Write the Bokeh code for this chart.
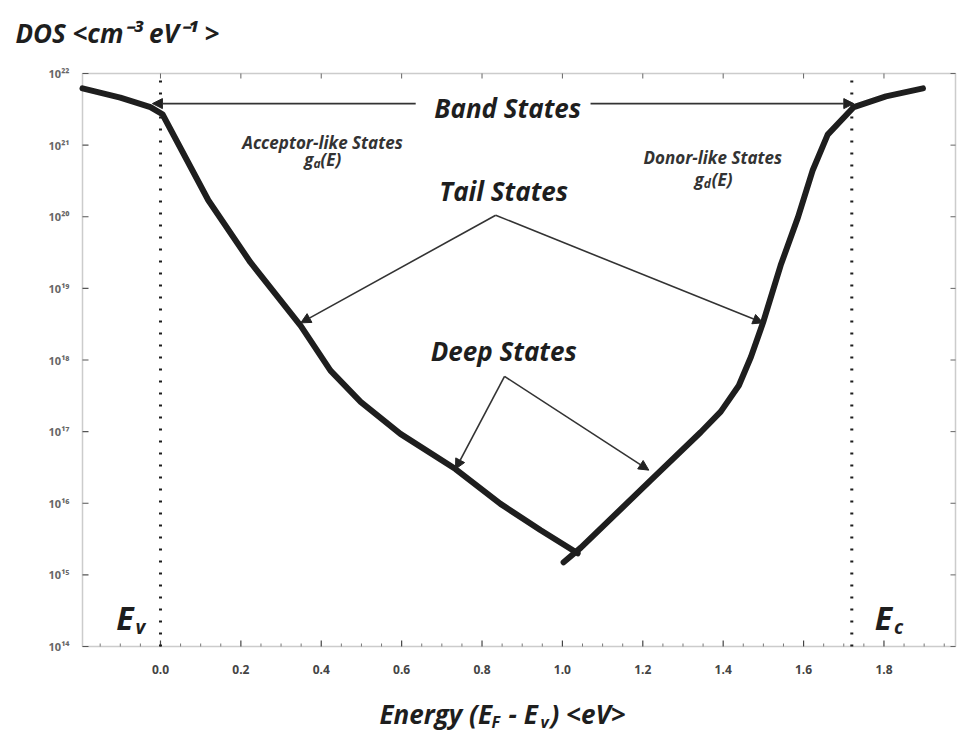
import math
from bokeh.plotting import figure
from bokeh.models import Arrow, NormalHead, Label, Range1d, BoxAnnotation
from bokeh.core.properties import value
from bokeh.embed import file_html
from bokeh.resources import INLINE

# ---------------- data ----------------
acceptor_E = [-0.194, -0.10, -0.025, 0.005, 0.119, 0.224, 0.349, 0.423, 0.498, 0.597, 0.734, 0.846, 0.946, 1.038]
acceptor_DOS = [6.2e21, 4.6e21, 3.4e21, 2.7e21, 1.7e20, 2.3e19, 3.0e18, 7.1e17, 2.6e17, 9.3e16, 3.0e16, 9.8e15, 4.2e15, 2.0e15]
donor_E = [1.003, 1.046, 1.22, 1.344, 1.394, 1.439, 1.469, 1.499, 1.543, 1.586, 1.623, 1.660, 1.725, 1.805, 1.897]
donor_DOS = [1.5e15, 2.4e15, 2.1e16, 9.8e16, 1.9e17, 4.4e17, 1.1e18, 3.3e18, 2.1e19, 9.8e19, 4.5e20, 1.4e21, 3.4e21, 4.8e21, 6.2e21]
E_v = 0.0
E_c = 1.72
x_ticks = [0.0, 0.2, 0.4, 0.6, 0.8, 1.0, 1.2, 1.4, 1.6, 1.8]
x_tick_labels = ["0.0", "0.2", "0.4", "0.6", "0.8", "1.0", "1.2", "1.4", "1.6", "1.8"]
x_minor = [-0.15, -0.1, -0.05, 0.05, 0.1, 0.15, 0.25, 0.3, 0.35, 0.45, 0.5, 0.55, 0.65, 0.7, 0.75,
           0.85, 0.9, 0.95, 1.05, 1.1, 1.15, 1.25, 1.3, 1.35, 1.45, 1.5, 1.55, 1.65, 1.7, 1.75, 1.85, 1.9, 1.95]
y_ticks = [1e14, 1e15, 1e16, 1e17, 1e18, 1e19, 1e20, 1e21, 1e22]
y_tick_labels = ["10¹⁴", "10¹⁵", "10¹⁶", "10¹⁷", "10¹⁸", "10¹⁹", "10²⁰", "10²¹", "10²²"]

# plotting box (the drawn frame) in data units
X_MIN, X_MAX = -0.194, 1.978
Y_MIN, Y_MAX = 1e14, 1e22

# ---------------- layout ----------------
W, H = 958, 733
M_LEFT, M_RIGHT, M_TOP, M_BOTTOM = 82, 3, 73, 87
px_per_x = (W - M_LEFT - M_RIGHT) / (X_MAX - X_MIN)
px_per_dec = (H - M_TOP - M_BOTTOM) / (math.log10(Y_MAX) - math.log10(Y_MIN))
x_start = X_MIN - M_LEFT / px_per_x
x_end = X_MAX + M_RIGHT / px_per_x
y_start = 10 ** (math.log10(Y_MIN) - M_BOTTOM / px_per_dec)
y_end = 10 ** (math.log10(Y_MAX) + M_TOP / px_per_dec)

INK = "#1e1e1e"
FONT = "Open Sans"

p = figure(width=W, height=H, y_axis_type="log",
           x_range=Range1d(x_start, x_end), y_range=Range1d(y_start, y_end),
           x_axis_location=None, y_axis_location=None,
           output_backend="svg", toolbar_location=None,
           min_border_left=0, min_border_right=0, min_border_top=0, min_border_bottom=0)
p.grid.visible = False
p.outline_line_color = None
p.background_fill_color = "white"
p.border_fill_color = "white"

# frame box
p.add_layout(BoxAnnotation(left=X_MIN, right=X_MAX, bottom=Y_MIN, top=Y_MAX, fill_alpha=0,
                           line_color="#555555", line_width=1.5, level="underlay"))

# ticks (inward) on all four sides
nx, ny, nm = len(x_ticks), len(y_ticks), len(x_minor)
p.ray(x=x_ticks, y=[Y_MIN] * nx, length=6, length_units="screen", angle=math.pi / 2, line_color="#444444", line_width=1.2)
p.ray(x=x_minor, y=[Y_MIN] * nm, length=3, length_units="screen", angle=math.pi / 2, line_color="#777777", line_width=1)
p.ray(x=x_ticks, y=[Y_MAX] * nx, length=5, length_units="screen", angle=-math.pi / 2, line_color="#666666", line_width=1)
p.ray(x=[X_MIN] * ny, y=y_ticks, length=6, length_units="screen", angle=0, line_color="#555555", line_width=1.2)
p.ray(x=[X_MAX] * ny, y=y_ticks, length=5, length_units="screen", angle=math.pi, line_color="#666666", line_width=1)

# tick labels
p.text(x=x_ticks, y=[Y_MIN] * nx, text=x_tick_labels, y_offset=18, text_align="center", text_baseline="top",
       text_font=value(FONT), text_font_style="bold", text_font_size="12px", text_color="#444444")
p.text(x=[X_MIN] * ny, y=y_ticks, text=y_tick_labels, x_offset=-13, text_align="right", text_baseline="middle",
       text_font=value(FONT), text_font_style="bold", text_font_size="11px", text_color="#666666")

# dotted band edges
for loc in (E_v, E_c):
    p.line([loc, loc], [Y_MIN, Y_MAX], line_color=INK, line_width=3, line_dash="2 10")

# DOS curve
p.line(acceptor_E, acceptor_DOS, line_width=6, line_color=INK, line_join="round", line_cap="round")
p.line(donor_E, donor_DOS, line_width=6, line_color=INK, line_join="round", line_cap="round")

def arrow(x0, y0, x1, y1):
    p.add_layout(Arrow(x_start=x0, y_start=y0, x_end=x1, y_end=y1, line_color="#333333", line_width=1.6,
                       end=NormalHead(size=10, fill_color="#222222", line_color="#222222")))

# Band states arrows
arrow(0.635, 3.8e21, -0.02, 3.8e21)
arrow(1.07, 3.8e21, 1.725, 3.8e21)
# Tail states arrows
arrow(0.834, 1.05e20, 0.349, 3.3e18)
arrow(0.834, 1.05e20, 1.499, 3.3e18)
# Deep states arrows
arrow(0.856, 5.9e17, 0.734, 3.0e16)
arrow(0.856, 5.9e17, 1.215, 2.9e16)

def label(x, y, text, size, align="center", baseline="middle", xo=0, yo=0, color=INK, style="bold italic"):
    p.add_layout(Label(x=x, y=y, text=text, text_font=FONT, text_font_size=size, text_font_style=style,
                       text_color=color, text_align=align, text_baseline=baseline, x_offset=xo, y_offset=yo))

label(0.864, 3.35e21, "Band States", "26px")
label(0.854, 2.3e20, "Tail States", "26px")
label(0.854, 1.35e18, "Deep States", "26px")
label(0.403, 1.09e21, "Acceptor-like States", "17px", color="#333333")
label(1.374, 6.8e20, "Donor-like States", "17px", color="#333333")
# g_a(E)
label(0.403, 6.4e20, "g", "17px", align="right", xo=-9, color="#333333")
label(0.403, 6.4e20, "a", "12px", align="left", xo=-9, yo=-4, color="#333333")
label(0.403, 6.4e20, "(E)", "17px", align="left", xo=-2, color="#333333")
# g_d(E)
label(1.374, 3.3e20, "g", "17px", align="right", xo=-9, color="#333333")
label(1.374, 3.3e20, "d", "12px", align="left", xo=-9, yo=-4, color="#333333")
label(1.374, 3.3e20, "(E)", "17px", align="left", xo=-1, color="#333333")
# E_v and E_c
label(-0.067, 2.5e14, "E", "32px", align="right", baseline="alphabetic")
label(-0.067, 2.5e14, "v", "19px", align="left", baseline="alphabetic", xo=2, yo=-9)
label(1.820, 2.5e14, "E", "32px", align="right", baseline="alphabetic")
label(1.820, 2.5e14, "c", "19px", align="left", baseline="alphabetic", xo=2, yo=-9)

# y-axis title (top-left)
label(-0.361, 3.73e22, "DOS <cm⁻³ eV⁻¹ >", "26px", align="left")

# x-axis title with subscripts
xl, yl = 0.545, 1.16e13
label(xl, yl, "Energy (E", "26px", align="left", xo=0)
label(xl, yl, "F", "16px", align="left", xo=112, yo=-8)
label(xl, yl, "- E", "26px", align="left", xo=129)
label(xl, yl, "v", "16px", align="left", xo=161, yo=-8)
label(xl, yl, ") <eV>", "26px", align="left", xo=171)

open("out.html", "w").write(file_html(p, INLINE))
